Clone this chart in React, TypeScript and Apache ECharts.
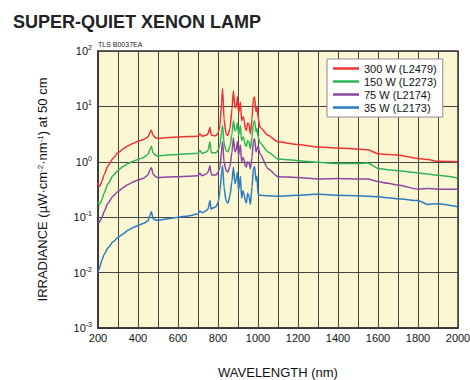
import React, { useEffect, useRef } from "react";
import * as echarts from "echarts";

// Wavelength samples (nm) shared by all four lamp spectra
const wavelengths = [
  200, 205, 210, 220, 230, 250, 275, 300, 325, 350, 375, 400, 425, 450, 460, 467, 475, 490, 500,
  550, 600, 650, 700, 710, 720, 740, 750, 760, 765, 770, 790, 800, 810, 818, 823, 830, 840, 850,
  860, 870, 877, 885, 892, 897, 903, 912, 918, 925, 930, 936, 942, 948, 955, 962, 970, 977, 983,
  990, 995, 1000, 1010, 1050, 1100, 1200, 1300, 1400, 1500, 1550, 1600, 1650, 1700, 1800, 1850,
  1900, 2000,
];

// Irradiance in µW·cm⁻²·nm⁻¹ at 50 cm
const w300 = [
  0.42, 0.36, 0.37, 0.45, 0.58, 0.85, 1.15, 1.45, 1.7, 1.95, 2.15, 2.35, 2.5, 2.8, 3.4, 3.7, 3.0, 2.7, 2.65,
  2.75, 2.8, 2.85, 2.9, 3.2, 2.9, 3.0, 3.2, 4.2, 3.1, 3.0, 2.95, 3.3, 4.5, 12, 21, 6, 3.2, 3.0,
  4.0, 9, 19, 9.5, 10, 15, 7.5, 12, 5.5, 6.5, 6, 4.0, 3.7, 5, 4.8, 3.2, 6, 14, 14.8,
  8, 10, 6.5, 4.2, 3.0, 2.3, 2.05, 1.85, 1.78, 1.7, 1.65, 1.4, 1.35, 1.32, 1.15, 1.1,
  1.02, 1.0,
];
const w150 = [
  0.19, 0.17, 0.175, 0.21, 0.27, 0.4, 0.56, 0.7, 0.82, 0.93, 1.02, 1.1, 1.18, 1.35, 1.7, 1.9, 1.45, 1.3, 1.28,
  1.33, 1.36, 1.4, 1.42, 1.6, 1.42, 1.5, 1.6, 2.3, 1.55, 1.45, 1.45, 1.6, 2.0, 3.5, 4.5, 2.2, 1.6, 1.5,
  1.9, 3.2, 5.5, 3.6, 4.0, 5.0, 3.0, 4.5, 2.4, 2.8, 2.6, 2.0, 1.9, 2.4, 2.3, 1.7, 2.8, 5.0, 5.5,
  3.5, 4.0, 2.9, 2.2, 1.5, 1.12, 1.05, 0.98, 0.93, 0.93, 0.95, 0.76, 0.72, 0.69, 0.63, 0.6,
  0.57, 0.51,
];
const w75 = [
  0.083, 0.08, 0.085, 0.1, 0.125, 0.18, 0.24, 0.29, 0.34, 0.39, 0.43, 0.47, 0.5, 0.58, 0.72, 0.78, 0.6, 0.53, 0.52,
  0.53, 0.54, 0.55, 0.56, 0.62, 0.56, 0.6, 0.65, 0.85, 0.62, 0.58, 0.58, 0.64, 0.8, 1.6, 2.3, 1.0, 0.7, 0.65,
  0.85, 1.5, 2.7, 1.5, 1.7, 2.3, 1.3, 2.0, 1.0, 1.2, 1.1, 0.85, 0.8, 1.0, 0.95, 0.75, 1.2, 2.4, 2.6,
  1.5, 1.7, 1.9, 1.4, 0.75, 0.54, 0.52, 0.49, 0.5, 0.49, 0.49, 0.44, 0.41, 0.38, 0.32, 0.33,
  0.32, 0.32,
];
const w35 = [
  0.01, 0.0115, 0.013, 0.017, 0.021, 0.028, 0.036, 0.043, 0.05, 0.058, 0.065, 0.071, 0.077, 0.085, 0.11, 0.125, 0.095, 0.088, 0.088,
  0.094, 0.1, 0.105, 0.115, 0.13, 0.12, 0.13, 0.14, 0.2, 0.14, 0.145, 0.155, 0.18, 0.3, 0.65, 0.85, 0.35, 0.2, 0.18,
  0.25, 0.45, 0.8, 0.4, 0.5, 0.65, 0.3, 0.55, 0.22, 0.3, 0.26, 0.2, 0.18, 0.27, 0.24, 0.17, 0.35, 0.75, 0.82,
  0.45, 0.55, 0.26, 0.25, 0.245, 0.24, 0.25, 0.26, 0.25, 0.245, 0.24, 0.235, 0.225, 0.215, 0.2, 0.17,
  0.175, 0.155,
];

const seriesNames = ["300 W (L2479)", "150 W (L2273)", "75 W (L2174)", "35 W (L2173)"];
const seriesColors = ["#ec3434", "#2fb455", "#8c47a3", "#2b7cc2"];
const seriesValues = [w300, w150, w75, w35];

const FONT = "Liberation Sans, Arial, sans-serif";

export default function App() {
  const ref = useRef<HTMLDivElement>(null);

  useEffect(() => {
    if (!ref.current) return;
    const chart = echarts.init(ref.current, null, { renderer: "svg" });
    chart.setOption({
      animation: false,
      textStyle: { fontFamily: FONT },
      title: {
        text: "SUPER-QUIET XENON LAMP",
        left: 8,
        top: 8,
        textStyle: { fontSize: 18, fontWeight: "bold", color: "#222", fontFamily: FONT },
      },
      graphic: [
        {
          type: "text",
          left: 98,
          top: 41,
          style: { text: "TLS B0037EA", fontSize: 7, fill: "#222", fontFamily: FONT },
        },
      ],
      legend: {
        orient: "vertical",
        left: 327,
        top: 59,
        data: seriesNames,
        icon: "rect",
        itemWidth: 26,
        itemHeight: 2.5,
        itemGap: 2,
        padding: [4, 6, 4, 6],
        backgroundColor: "#ffffff",
        borderColor: "#8a8a8a",
        borderWidth: 1,
        textStyle: { fontSize: 11, color: "#111", fontFamily: FONT },
      },
      grid: {
        left: 98,
        right: 12,
        top: 51,
        bottom: 52,
        outerBoundsMode: "none",
        show: true,
        backgroundColor: "#fcf7d3",
        borderColor: "#333",
        borderWidth: 1.5,
      },
      xAxis: {
        type: "value",
        min: 200,
        max: 2000,
        interval: 100,
        name: "WAVELENGTH (nm)",
        nameLocation: "middle",
        nameGap: 38,
        nameTextStyle: { fontSize: 13, color: "#111", fontFamily: FONT },
        axisLine: { show: true, lineStyle: { color: "#333", width: 1.5 } },
        axisTick: { show: false },
        axisLabel: {
          fontSize: 11,
          color: "#111",
          margin: 4,
          formatter: (v: number) => (v % 200 === 0 ? String(v) : ""),
        },
        splitLine: { show: true, lineStyle: { color: "#444", width: 1 } },
      },
      yAxis: {
        type: "log",
        logBase: 10,
        min: 0.001,
        max: 100,
        name: "IRRADIANCE (µW·cm{s|-2}·nm{s|-1}) at 50 cm",
        nameLocation: "middle",
        nameGap: 49,
        nameTextStyle: {
          fontSize: 13,
          color: "#111",
          fontFamily: FONT,
          rich: {
            s: { fontSize: 8, verticalAlign: "top", lineHeight: 8, color: "#111", fontFamily: FONT },
          },
        },
        axisLine: { show: true, lineStyle: { color: "#333", width: 1.5 } },
        axisTick: { show: false },
        axisLabel: {
          margin: 6,
          formatter: (v: number) => `{b|10}{s|${Math.round(Math.log10(v))}}`,
          rich: {
            b: { fontSize: 11, color: "#111", lineHeight: 14, fontFamily: FONT },
            s: { fontSize: 7, color: "#111", lineHeight: 7, verticalAlign: "top", fontFamily: FONT },
          },
        },
        splitLine: { show: true, lineStyle: { color: "#444", width: 1 } },
      },
      series: seriesNames.map((name, k) => ({
        name,
        type: "line",
        showSymbol: false,
        symbol: "none",
        smooth: 0.2,
        smoothMonotone: "x",
        color: seriesColors[k],
        lineStyle: { color: seriesColors[k], width: 1.5 },
        data: wavelengths.map((w, i) => [w, seriesValues[k][i]]),
      })),
    });
    return () => chart.dispose();
  }, []);

  return (
    <div
      ref={ref}
      style={{ position: "absolute", left: 0, top: 0, width: 470, height: 380 }}
    />
  );
}
